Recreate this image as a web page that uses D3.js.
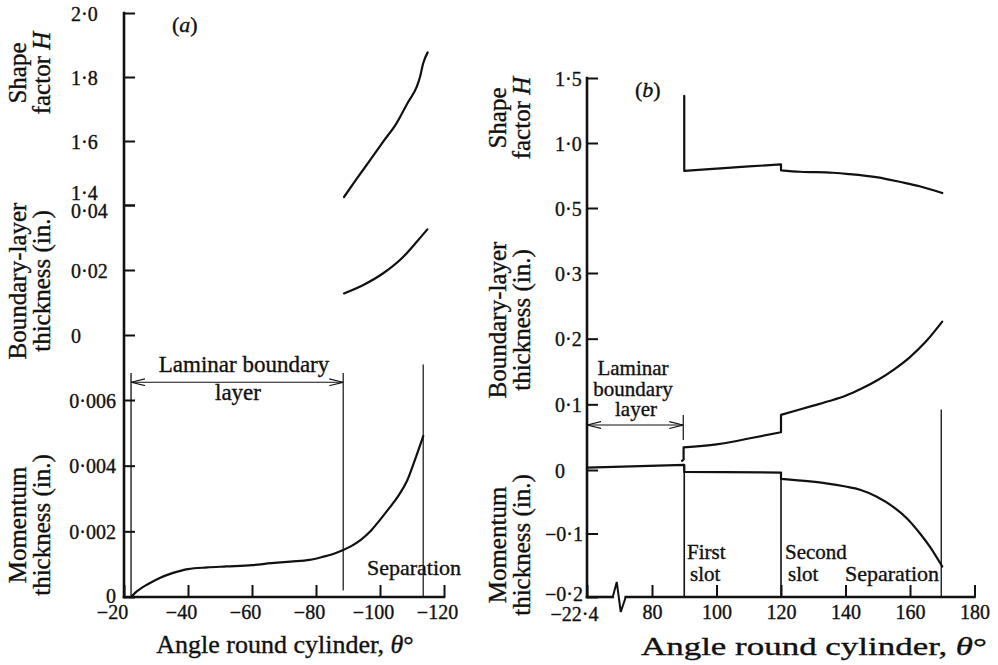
<!DOCTYPE html>
<html>
<head>
<meta charset="utf-8">
<script src="https://cdn.jsdelivr.net/npm/d3@7"></script>
<style>
  body { margin: 0; background: #fff; }
  svg { display: block; }
  svg text { fill: #111; stroke: #111; stroke-width: 0.35px; }
</style>
</head>
<body>
<svg id="chart" width="998" height="665"></svg>
<script>
// ---------- Panel (a): laminar layer, angle measured negative ----------
const ticksThetaA = [-20, -40, -60, -80, -100, -120];
const ticksShapeA = [1.4, 1.6, 1.8, 2.0];
const ticksDeltaA = [0, 0.02, 0.04];
const ticksMomA   = [0, 0.002, 0.004, 0.006];

const thetaShapeA = [-88.75, -92.8, -96.9, -101.0, -105.2, -108.8, -111.5, -112.5, -113.5, -114.9];
const shapeA      = [1.425, 1.483, 1.54, 1.598, 1.656, 1.722, 1.77, 1.80, 1.843, 1.877];

const thetaDeltaA = [-88.75, -94.8, -101.0, -107.3, -111.5, -114.8];
const deltaA      = [0.0128, 0.0154, 0.019, 0.0241, 0.0287, 0.0325];

const thetaMomA = [-22.2, -24, -26, -28, -31, -34, -37, -40, -46, -52, -60, -66, -72, -78, -82, -86,
                   -88.5, -91, -94, -97, -100, -103, -106, -108.5, -111, -113.5];
const momA      = [0, 0.00017, 0.00031, 0.00042, 0.00057, 0.00069, 0.00078, 0.00085, 0.0009, 0.00093,
                   0.00097, 0.00103, 0.00108, 0.00113, 0.00122, 0.00133, 0.00143, 0.00155, 0.00174,
                   0.002, 0.00235, 0.00272, 0.00312, 0.00355, 0.0042, 0.0049];

const laminarStartA = -22.2, laminarEndA = -88.5, separationA = -113.5;

// ---------- Panel (b): slotted cylinder ----------
const ticksThetaB = [-22.4, 80, 100, 120, 140, 160, 180];
const ticksShapeB = [0.5, 1.0, 1.5];
const ticksDeltaB = [0, 0.1, 0.2, 0.3];
const ticksMomB   = [-0.2, -0.1];

// shape factor: jump at the first slot, small step at the second
const thetaShapeB0 = [90, 90];
const shapeB0      = [1.362, 0.785];
const thetaShapeB1 = [90, 100, 110, 120];
const shapeB1      = [0.785, 0.803, 0.82, 0.835];
const thetaShapeB2 = [120, 126, 136, 141, 150, 157, 163, 170];
const shapeB2      = [0.79, 0.779, 0.771, 0.761, 0.735, 0.70, 0.667, 0.615];

// boundary-layer thickness
const thetaDeltaB0 = [89.3, 89.8, 89.8];
const deltaB0      = [0.014, 0.016, 0.0345];
const thetaDeltaB1 = [89.8, 100, 105, 110, 120];
const deltaB1      = [0.0345, 0.039, 0.043, 0.048, 0.0575];
const thetaDeltaB2 = [120, 125, 130, 135, 140, 145, 150, 155, 160, 165, 170];
const deltaB2      = [0.084, 0.091, 0.098, 0.105, 0.113, 0.124, 0.137, 0.153, 0.172, 0.196, 0.226];

// momentum thickness
const thetaMomB0 = [-22.4, 90];
const momB0      = [0.0036, 0.008];
const thetaMomB1 = [90, 120];
const momB1      = [-0.003, -0.004];
const thetaMomB2 = [120, 129, 134, 140, 144.5, 149.7, 154.8, 159, 163.1, 166.2, 170];
const momB2      = [-0.014, -0.018, -0.021, -0.026, -0.031, -0.042, -0.058, -0.076, -0.1, -0.121, -0.152];

const firstSlotB = 90, secondSlotB = 120, separationB = 170, breakB = 70;

// ---------- typeface: first serif family that is really present ----------
const serifFace = (function () {
  const ctx = document.createElement("canvas").getContext("2d");
  const probe = "Angle round cylinder, Momentum 0.006";
  const w = f => { ctx.font = "40px " + f; return ctx.measureText(probe).width; };
  const candidates = ["Liberation Serif", "DejaVu Serif", "Noto Serif", "Times New Roman",
                      "Tinos", "FreeSerif", "Nimbus Roman", "Times", "Georgia"];
  for (const c of candidates) {
    const q = `'${c}'`;
    if (w(`${q}, monospace`) !== w("monospace") && w(`${q}, sans-serif`) !== w("sans-serif")) return q;
  }
  return "serif";
})();
d3.select("#chart").style("font-family", `${serifFace}, serif`);

// ---------- scales ----------
const ink = "#111";
const svg = d3.select("#chart");

const xA = d3.scaleLinear().domain([-20, -120]).range([124, 444]);
const yShapeA = d3.scaleLinear().domain([1.4, 2.0]).range([205, 13]);
const yDeltaA = d3.scaleLinear().domain([0, 0.04]).range([335, 205]);
const yMomA   = d3.scaleLinear().domain([0, 0.006]).range([597, 400]);

// broken axis: the stretch from -22.4 up to 70 is squeezed into the gap
const xB = d3.scaleLinear().domain([-22.4, breakB, 180]).range([587, 619.75, 974.5]);
const yShapeB = d3.scaleLinear().domain([0.5, 1.5]).range([208, 78]);
const yDeltaB = d3.scaleLinear().domain([0, 0.3]).range([470, 273]);
const yMomB   = d3.scaleLinear().domain([-0.2, 0]).range([597, 470]);

function fmt(d, p) {
  if (d === 0) return "0";
  const s = d3.format(`.${p}f`)(Math.abs(d)).replace(".", "·");
  return (d < 0 ? "−" : "") + s;
}

// ---------- axes ----------
function yAxis(scale, values, prec, axisX, labelX, anchor, dyFn) {
  const g = svg.append("g").attr("transform", `translate(${axisX},0)`)
    .call(d3.axisRight(scale).tickValues(values).tickSize(11).tickFormat(d => fmt(d, prec)));
  g.attr("font-family", null).attr("font-size", null);
  g.select(".domain").remove();
  g.selectAll(".tick line").attr("stroke", ink).attr("stroke-width", 2);
  g.selectAll(".tick text")
    .attr("x", labelX - axisX).attr("text-anchor", anchor)
    .attr("font-size", 20).attr("fill", ink)
    .attr("dy", d => (dyFn ? dyFn(d) : 7));
  return g;
}

function xAxis(scale, values, y, fmtFn, dxFn) {
  const g = svg.append("g").attr("transform", `translate(0,${y})`)
    .call(d3.axisBottom(scale).tickValues(values).tickSize(-12).tickPadding(8).tickFormat(fmtFn));
  g.attr("font-family", null).attr("font-size", null);
  g.select(".domain").remove();
  g.selectAll(".tick line").attr("stroke", ink).attr("stroke-width", 2);
  g.selectAll(".tick text").attr("font-size", 20).attr("fill", ink).attr("dx", dxFn);
  return g;
}

function axisLine(x1, y1, x2, y2) {
  svg.append("line").attr("x1", x1).attr("y1", y1).attr("x2", x2).attr("y2", y2)
    .attr("stroke", ink).attr("stroke-width", 2.6).attr("stroke-linecap", "square");
}

// panel (a) axes
axisLine(xA(-20), yShapeA(2.0), xA(-20), yMomA(0));
axisLine(xA(-20), yMomA(0), xA(-120), yMomA(0));
yAxis(yShapeA, ticksShapeA, 1, xA(-20), 71, "start", d => (d === 1.4 ? -6 : 7));
yAxis(yDeltaA, ticksDeltaA, 2, xA(-20), 71, "start", d => (d === 0.04 ? 12 : 7));
yAxis(yMomA, ticksMomA, 3, xA(-20), 116, "end", d => (d === 0 ? 5 : 7));
xAxis(xA, ticksThetaA, yMomA(0), d => fmt(d, 0), d => (d === -20 ? -12 : -7));

// panel (b) axes
const xBreak = xB(breakB);
axisLine(xB(-22.4), yShapeB(1.5), xB(-22.4), yMomB(-0.2));
axisLine(xB(-22.4), yMomB(-0.2), xBreak - 7, yMomB(-0.2));
axisLine(xBreak + 6, yMomB(-0.2), xB(180), yMomB(-0.2));
svg.append("path")
  .attr("d", `M${xBreak - 7},${yMomB(-0.2)}L${xBreak - 3},${yMomB(-0.2) - 15}L${xBreak + 1},${yMomB(-0.2) + 15}L${xBreak + 6},${yMomB(-0.2)}`)
  .attr("fill", "none").attr("stroke", ink).attr("stroke-width", 2).attr("stroke-linejoin", "miter");
yAxis(yShapeB, ticksShapeB, 1, xB(-22.4), 555, "start");
yAxis(yDeltaB, ticksDeltaB, 1, xB(-22.4), 555, "start");
yAxis(yMomB, ticksMomB, 1, xB(-22.4), 583, "end", d => (d === -0.2 ? 3 : 7));
const gxB = xAxis(xB, ticksThetaB, yMomB(-0.2), d => fmt(d, d === -22.4 ? 1 : 0), () => 0);
gxB.selectAll(".tick text").filter(d => d === -22.4).attr("text-anchor", "end").attr("x", 11).attr("dy", "0.8em");

// ---------- curves ----------
function segPath(xs, ys, segs) {
  return segs.map((s, i) => {
    const pts = s[0].map((t, j) => [xs(t), ys(s[1][j])]);
    const mono = pts.length > 2 && pts.every((p, j) => j === 0 || p[0] > pts[j - 1][0]);
    const d = d3.line().curve(mono ? d3.curveMonotoneX : d3.curveLinear)(pts);
    return i === 0 ? d : "L" + d.slice(1);
  }).join("");
}
function curve(d) {
  svg.append("path").attr("d", d).attr("fill", "none").attr("stroke", ink)
    .attr("stroke-width", 2.2).attr("stroke-linejoin", "round").attr("stroke-linecap", "round");
}

curve(segPath(xA, yShapeA, [[thetaShapeA, shapeA]]));
curve(segPath(xA, yDeltaA, [[thetaDeltaA, deltaA]]));
curve(segPath(xA, yMomA, [[thetaMomA, momA]]));

curve(segPath(xB, yShapeB, [[thetaShapeB0, shapeB0], [thetaShapeB1, shapeB1], [thetaShapeB2, shapeB2]]));
curve(segPath(xB, yDeltaB, [[thetaDeltaB0, deltaB0], [thetaDeltaB1, deltaB1], [thetaDeltaB2, deltaB2]]));
curve(segPath(xB, yMomB, [[thetaMomB0, momB0], [thetaMomB1, momB1], [thetaMomB2, momB2]]));

// ---------- marker lines and arrows ----------
const defs = svg.append("defs");
defs.append("marker").attr("id", "chev")
  .attr("viewBox", "0 0 14 8").attr("refX", 14).attr("refY", 4)
  .attr("markerWidth", 14).attr("markerHeight", 8).attr("markerUnits", "userSpaceOnUse")
  .attr("orient", "auto-start-reverse")
  .append("path").attr("d", "M0,0.6L14,4L0,7.4").attr("fill", "none").attr("stroke", ink).attr("stroke-width", 1.1);

function vline(x, y1, y2, w) {
  svg.append("line").attr("x1", x).attr("x2", x).attr("y1", y1).attr("y2", y2)
    .attr("stroke", ink).attr("stroke-width", w || 1.2);
}
function arrow(x1, x2, y) {
  svg.append("line").attr("x1", x1).attr("x2", x2).attr("y1", y).attr("y2", y)
    .attr("stroke", ink).attr("stroke-width", 1.2)
    .attr("marker-start", "url(#chev)").attr("marker-end", "url(#chev)");
}

// panel (a)
vline(xA(laminarStartA), yMomA(0.00682), yMomA(0), 1.3);
vline(xA(laminarEndA), yMomA(0.00682), yMomA(0.0002), 1.2);
vline(xA(separationA), yMomA(0.00708), yMomA(0), 1.2);
arrow(xA(laminarStartA), xA(laminarEndA), yMomA(0.00654));

// panel (b)
vline(xB(firstSlotB) - 1, yDeltaB(0.0837), yDeltaB(0.0457), 1.2);
arrow(xB(-22.4), xB(firstSlotB) - 1, yDeltaB(0.0685));
vline(xB(firstSlotB), yMomB(0.008), yMomB(-0.2), 1.6);
vline(xB(secondSlotB), yMomB(-0.004), yMomB(-0.2), 1.6);
vline(xB(separationB) - 1, yDeltaB(0.092), yMomB(-0.2), 1.3);

// ---------- text ----------
function label(x, y, str, size, anchor) {
  return svg.append("text").attr("x", x).attr("y", y).attr("font-size", size)
    .attr("text-anchor", anchor || "start").text(str);
}
function vtitle(x, y, parts, size) {
  const t = svg.append("text").attr("transform", `translate(${x},${y}) rotate(-90)`)
    .attr("text-anchor", "middle").attr("font-size", size || 25);
  parts.forEach(p => t.append("tspan").attr("font-style", p[1] ? "italic" : null).text(p[0]));
  return t;
}
function htitle(x, y, size, len) {
  const t = svg.append("text").attr("x", x).attr("y", y).attr("font-size", size).attr("text-anchor", "middle");
  t.append("tspan").text("Angle round cylinder, ");
  t.append("tspan").attr("font-style", "italic").text("θ");
  t.append("tspan").text("°");
  if (len) t.attr("textLength", len).attr("lengthAdjust", "spacingAndGlyphs");
}
function tag(x, y, ch) {
  const t = svg.append("text").attr("x", x).attr("y", y).attr("font-size", 22);
  t.append("tspan").text("(");
  t.append("tspan").attr("font-style", "italic").text(ch);
  t.append("tspan").text(")");
}

// panel (a) titles
vtitle(26, 73, [["Shape"]]);
vtitle(50, 73, [["factor "], ["H", true]]);
vtitle(26, 281, [["Boundary-layer"]]);
vtitle(50, 281, [["thickness (in.)"]]);
vtitle(26, 525, [["Momentum"]]);
vtitle(50, 525, [["thickness (in.)"]]);
htitle(285, 653, 26);
tag(172, 32, "a");

label(244, 372, "Laminar boundary", 23, "middle");
label(238, 400, "layer", 23, "middle");
label(414, 575, "Separation", 22, "middle");

// panel (b) titles
vtitle(506, 118, [["Shape"]]);
vtitle(530, 118, [["factor "], ["H", true]]);
vtitle(506, 320, [["Boundary-layer"]]);
vtitle(530, 320, [["thickness (in.)"]]);
vtitle(506, 545, [["Momentum"]]);
vtitle(530, 545, [["thickness (in.)"]]);
htitle(814, 655, 26, 346);
tag(635, 97, "b");

label(633, 375, "Laminar", 21, "middle");
label(633, 396, "boundary", 21, "middle");
label(636, 416, "layer", 21, "middle");
label(687, 559, "First", 21);
label(690, 581, "slot", 21);
label(785, 559, "Second", 21);
label(788, 581, "slot", 21);
label(892, 581, "Separation", 22, "middle");
</script>
</body>
</html>
